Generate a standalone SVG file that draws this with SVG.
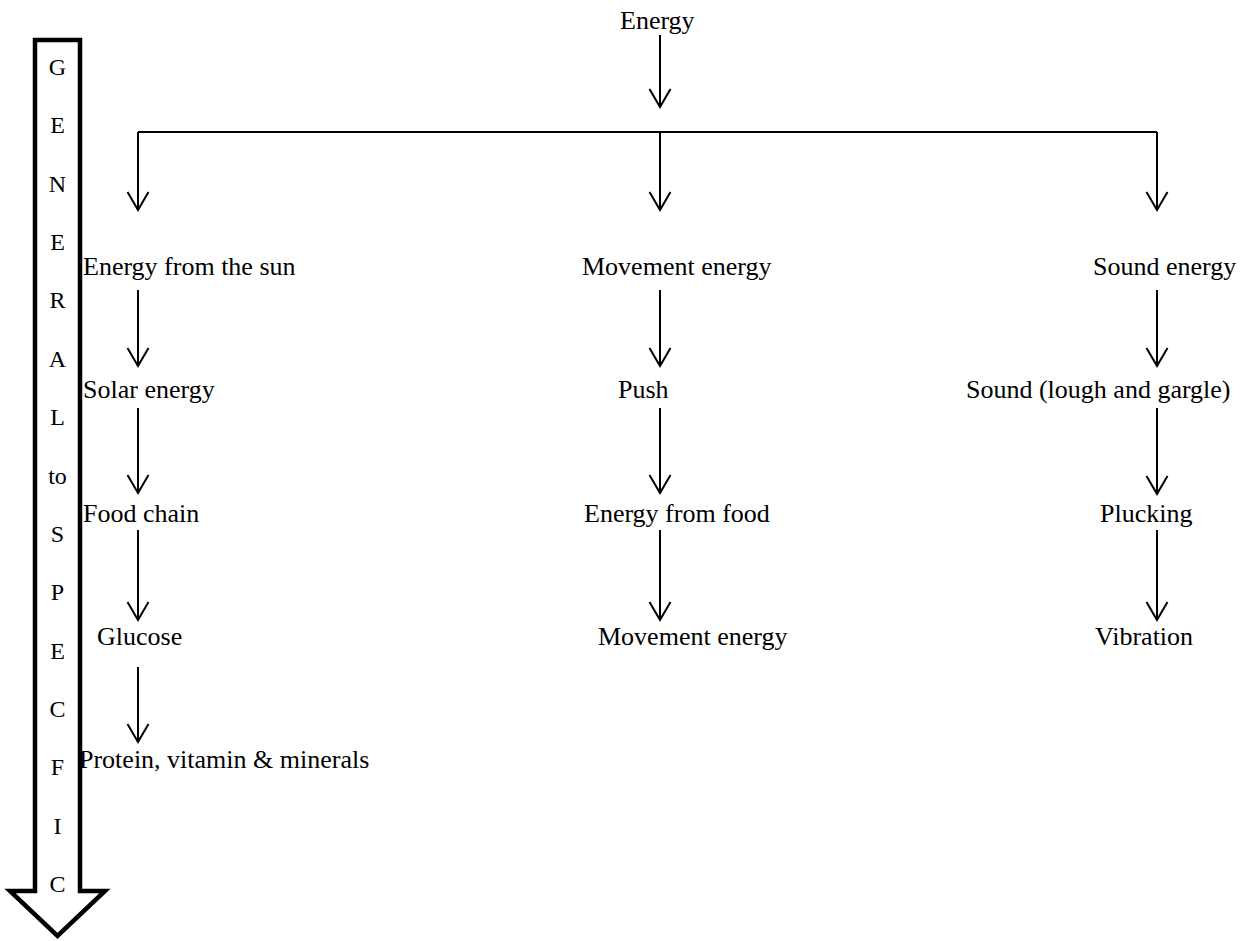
<svg xmlns="http://www.w3.org/2000/svg" width="1241" height="941" viewBox="0 0 1241 941">
  <style>
    text { font-family: "Liberation Serif", "Times New Roman", serif; font-size: 26px; fill: #000; }
    .letter { font-size: 24px; text-anchor: middle; }
    .conn line, .conn path { stroke: #000; stroke-width: 2; fill: none; }
  </style>
  <defs>
    <marker id="vhead" markerUnits="userSpaceOnUse" markerWidth="40" markerHeight="40" refX="0" refY="0" orient="auto" viewBox="-20 -20 40 40" overflow="visible">
      <path d="M-18,-10.5 L0,0 L-18,10.5" fill="none" stroke="#000" stroke-width="2" stroke-linejoin="miter"/>
    </marker>
  </defs>
  <rect x="0" y="0" width="1241" height="941" fill="#fff"/>

  <g id="general-to-specific">
    <polygon points="35,40 80,40 80,891 105,891 57.5,936 10,891 35,891" fill="#fff" stroke="#000" stroke-width="4.5" stroke-linejoin="miter"/>
    <text class="letter" x="57.5" y="75">G</text>
    <text class="letter" x="57.5" y="133">E</text>
    <text class="letter" x="57.5" y="192">N</text>
    <text class="letter" x="57.5" y="250">E</text>
    <text class="letter" x="57.5" y="308">R</text>
    <text class="letter" x="57.5" y="367">A</text>
    <text class="letter" x="57.5" y="425">L</text>
    <text class="letter" x="57.5" y="484">to</text>
    <text class="letter" x="57.5" y="542">S</text>
    <text class="letter" x="57.5" y="600">P</text>
    <text class="letter" x="57.5" y="659">E</text>
    <text class="letter" x="57.5" y="717">C</text>
    <text class="letter" x="57.5" y="775">F</text>
    <text class="letter" x="57.5" y="834">I</text>
    <text class="letter" x="57.5" y="892">C</text>
  </g>

  <g id="connectors" class="conn">
    <line x1="660" y1="35" x2="660" y2="107" marker-end="url(#vhead)"/>
    <line x1="138" y1="132" x2="1157" y2="132"/>
    <line x1="138" y1="132" x2="138" y2="210" marker-end="url(#vhead)"/>
    <line x1="660" y1="132" x2="660" y2="210" marker-end="url(#vhead)"/>
    <line x1="1157" y1="132" x2="1157" y2="210" marker-end="url(#vhead)"/>

    <line x1="138" y1="290" x2="138" y2="366" marker-end="url(#vhead)"/>
    <line x1="138" y1="408" x2="138" y2="493" marker-end="url(#vhead)"/>
    <line x1="138" y1="530" x2="138" y2="620" marker-end="url(#vhead)"/>
    <line x1="138" y1="667" x2="138" y2="742" marker-end="url(#vhead)"/>

    <line x1="660" y1="290" x2="660" y2="366" marker-end="url(#vhead)"/>
    <line x1="660" y1="408" x2="660" y2="493" marker-end="url(#vhead)"/>
    <line x1="660" y1="530" x2="660" y2="620" marker-end="url(#vhead)"/>

    <line x1="1157" y1="290" x2="1157" y2="366" marker-end="url(#vhead)"/>
    <line x1="1157" y1="408" x2="1157" y2="494" marker-end="url(#vhead)"/>
    <line x1="1157" y1="530" x2="1157" y2="620" marker-end="url(#vhead)"/>
  </g>

  <g id="n-energy"><text x="620" y="29">Energy</text></g>

  <g id="n-sun"><text x="83" y="275">Energy from the sun</text></g>
  <g id="n-solar"><text x="83" y="398">Solar energy</text></g>
  <g id="n-foodchain"><text x="83" y="522">Food chain</text></g>
  <g id="n-glucose"><text x="97" y="645">Glucose</text></g>
  <g id="n-protein"><text x="79" y="768">Protein, vitamin &amp; minerals</text></g>

  <g id="n-movement"><text x="582" y="275">Movement energy</text></g>
  <g id="n-push"><text x="618" y="398">Push</text></g>
  <g id="n-foodenergy"><text x="584" y="522">Energy from food</text></g>
  <g id="n-movement2"><text x="598" y="645">Movement energy</text></g>

  <g id="n-sound"><text x="1093" y="275">Sound energy</text></g>
  <g id="n-sound2"><text x="966" y="398">Sound (lough and gargle)</text></g>
  <g id="n-plucking"><text x="1100" y="522">Plucking</text></g>
  <g id="n-vibration"><text x="1095" y="645">Vibration</text></g>
</svg>
